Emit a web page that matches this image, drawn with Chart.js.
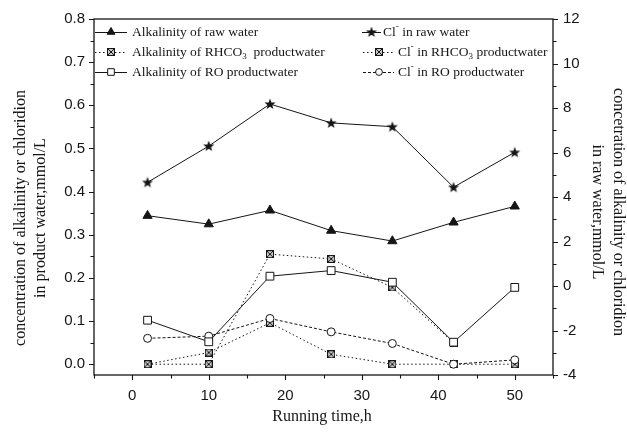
<!DOCTYPE html>
<html><head><meta charset="utf-8">
<script src="https://cdn.jsdelivr.net/npm/chart.js@4.4.0/dist/chart.umd.min.js"></script>
<style>html,body{margin:0;padding:0;background:#fff;}#wrap{position:relative;width:627px;height:433px;}</style>
</head><body><div id="wrap"><canvas id="c" width="627" height="433"></canvas></div>
<script>
// ---- data ----
const runningTime = [2, 10, 18, 26, 34, 42, 50];
const alkRawWater = [3.16, 2.78, 3.40, 2.49, 2.02, 2.86, 3.58];   // right axis
const clRawWater  = [4.66, 6.29, 8.18, 7.33, 7.16, 4.44, 6.01];   // right axis
const alkRHCO3    = [0, 0, 0.255, 0.244, 0.178, 0.050, null];     // left axis
const clRHCO3     = [0, 0.027, 0.096, 0.023, 0, 0, 0];           // left axis
const alkRO       = [0.102, 0.052, 0.204, 0.217, 0.190, 0.051, 0.178];
const clRO        = [0.060, 0.065, 0.106, 0.075, 0.048, 0, 0.010];
const xTickValues = [0, 10, 20, 30, 40, 50];
const leftTickValues = [0, 0.1, 0.2, 0.3, 0.4, 0.5, 0.6, 0.7, 0.8];
const rightTickValues = [-4, -2, 0, 2, 4, 6, 8, 10, 12];
const xTitle = 'Running time,h';
const leftTitle = ['concentration of alkalinity or chloridion', 'in product water,mmol/L'];
const rightTitle = ['concetration of alkalinity or chloridion', 'in raw water,mmol/L'];

const INK = '#151515';
const SERIF = '"Liberation Serif", "Times New Roman", serif';
const SANS = '"Liberation Sans", Arial, sans-serif';

function makeStar() {
  const c = document.createElement('canvas'); c.width = 12; c.height = 12;
  const g = c.getContext('2d'); g.fillStyle = INK; g.beginPath();
  for (let i = 0; i < 10; i++) {
    const r = i % 2 === 0 ? 5.8 : 2.4;
    const a = -Math.PI / 2 + i * Math.PI / 5;
    const px = 6 + r * Math.cos(a), py = 6.4 + r * Math.sin(a);
    i === 0 ? g.moveTo(px, py) : g.lineTo(px, py);
  }
  g.closePath(); g.fill(); return c;
}
function makeCrossSquare() {
  const c = document.createElement('canvas'); c.width = 8; c.height = 8;
  const g = c.getContext('2d');
  g.fillStyle = '#c8c8c8'; g.fillRect(0, 0, 8, 8);
  g.strokeStyle = INK; g.lineWidth = 1;
  g.strokeRect(0.5, 0.5, 7, 7);
  g.beginPath(); g.moveTo(1, 1); g.lineTo(7, 7); g.moveTo(7, 1); g.lineTo(1, 7); g.stroke();
  return c;
}
const starImg = makeStar();
const crossImg = makeCrossSquare();

const pts = arr => runningTime.map((t, i) => ({ x: t, y: arr[i] }));

const datasets = [
  { key: 'alkRaw', data: pts(alkRawWater), yAxisID: 'y2', borderColor: INK, borderWidth: 1,
    pointStyle: 'triangle', pointRadius: 5.3, pointBackgroundColor: INK, pointBorderColor: INK, pointBorderWidth: 1, order: 0 },
  { key: 'clRaw', data: pts(clRawWater), yAxisID: 'y2', borderColor: INK, borderWidth: 1,
    pointStyle: starImg, pointRadius: 6, order: 0 },
  { key: 'alkRHCO3', data: pts(alkRHCO3), yAxisID: 'y', borderColor: INK, borderWidth: 1, borderDash: [1.5, 2.5],
    pointStyle: crossImg, pointRadius: 4, order: 3 },
  { key: 'clRHCO3', data: pts(clRHCO3), yAxisID: 'y', borderColor: INK, borderWidth: 1, borderDash: [1.5, 2.5],
    pointStyle: crossImg, pointRadius: 4, order: 3 },
  { key: 'alkRO', data: pts(alkRO), yAxisID: 'y', borderColor: INK, borderWidth: 1,
    pointStyle: 'rect', pointRadius: 5.5, pointBackgroundColor: '#fff', pointBorderColor: INK, pointBorderWidth: 1, order: 1 },
  { key: 'clRO', data: pts(clRO), yAxisID: 'y', borderColor: INK, borderWidth: 1, borderDash: [3, 2],
    pointStyle: 'circle', pointRadius: 4, pointBackgroundColor: '#fff', pointBorderColor: INK, pointBorderWidth: 1, order: 2 }
];
datasets.forEach(d => { d.fill = false; d.tension = 0; d.spanGaps = false; d.label = d.key; });

// legend: [datasetIndex, sample start, sample end, marker x, text x, row y, rich text]
const legendRows = [
  [0, 95, 127, 111, 132, 32, [{ t: 'Alkalinity of raw water' }]],
  [2, 95, 127, 111, 132, 52, [{ t: 'Alkalinity of RHCO' }, { t: '3', sub: true }, { t: '  productwater' }]],
  [4, 95, 127, 111, 132, 72, [{ t: 'Alkalinity of RO productwater' }]],
  [1, 362, 381, 371.5, 383, 32, [{ t: 'Cl' }, { t: '-', sup: true }, { t: ' in raw water' }]],
  [3, 363, 394, 379, 398, 52, [{ t: 'Cl' }, { t: '-', sup: true }, { t: ' in RHCO' }, { t: '3', sub: true }, { t: ' productwater' }]],
  [5, 363, 394, 379, 398, 72, [{ t: 'Cl' }, { t: '-', sup: true }, { t: ' in RO productwater' }]]
];

const decor = {
  id: 'decor',
  afterDatasetsDraw(chart) {
    const { ctx, chartArea: { left, right, top, bottom }, scales: { x, y, y2 } } = chart;
    ctx.save();
    ctx.strokeStyle = INK;
    ctx.lineWidth = 1.3;
    ctx.strokeRect(left, top, right - left, bottom - top);
    ctx.lineWidth = 1.1;
    ctx.beginPath();
    for (let v = -5; v <= 55; v += 5) {
      const px = Math.round(x.getPixelForValue(v)) + 0.5;
      const len = v % 10 === 0 ? 5 : 3.5;
      ctx.moveTo(px, bottom); ctx.lineTo(px, bottom + len);
    }
    for (let i = 0; i <= 16; i++) {
      const py = Math.round(y.getPixelForValue(i * 0.05)) + 0.5;
      const len = i % 2 === 0 ? 5 : 3.5;
      ctx.moveTo(left, py); ctx.lineTo(left - len, py);
    }
    for (let v = -4; v <= 12; v++) {
      const py = Math.round(y2.getPixelForValue(v)) + 0.5;
      const len = v % 2 === 0 ? 5 : 3.5;
      ctx.moveTo(right, py); ctx.lineTo(right + len, py);
    }
    ctx.stroke();

    // legend
    ctx.fillStyle = INK;
    legendRows.forEach(([di, x0, x1, mx, tx, ry, rich]) => {
      const ds = chart.data.datasets[di];
      ctx.save();
      ctx.strokeStyle = INK; ctx.lineWidth = 1;
      ctx.setLineDash(ds.borderDash || []);
      ctx.beginPath(); ctx.moveTo(x0, ry + 0.5); ctx.lineTo(x1, ry + 0.5); ctx.stroke();
      ctx.setLineDash([]);
      ctx.fillStyle = ds.pointBackgroundColor || INK;
      ctx.strokeStyle = INK;
      Chart.helpers.drawPoint(ctx, { pointStyle: ds.pointStyle, rotation: 0, radius: ds.pointRadius * 0.85, borderWidth: 1 }, mx, ry);
      ctx.restore();
      let cx = tx;
      ctx.textBaseline = 'middle'; ctx.textAlign = 'left'; ctx.fillStyle = INK;
      rich.forEach(seg => {
        if (seg.sub || seg.sup) {
          ctx.font = '9px ' + SERIF;
          ctx.fillText(seg.t, cx, ry + (seg.sub ? 5 : -5));
        } else {
          ctx.font = '13.5px ' + SERIF;
          ctx.fillText(seg.t, cx, ry);
        }
        cx += ctx.measureText(seg.t).width;
      });
    });

    // axis titles
    ctx.font = '16px ' + SERIF;
    ctx.textAlign = 'center'; ctx.textBaseline = 'middle';
    ctx.fillText(xTitle, 322, 417);
    ctx.save(); ctx.translate(0, 218); ctx.rotate(-Math.PI / 2);
    ctx.fillText(leftTitle[0], 0, 20.5); ctx.fillText(leftTitle[1], 0, 41);
    ctx.restore();
    ctx.save(); ctx.translate(0, 212); ctx.rotate(Math.PI / 2);
    ctx.fillText(rightTitle[0], 0, -618); ctx.fillText(rightTitle[1], 0, -597);
    ctx.restore();
    ctx.restore();
  }
};

const tickFont = { family: SANS, size: 15 };
new Chart(document.getElementById('c'), {
  type: 'line',
  data: { datasets },
  options: {
    responsive: false, animation: false, devicePixelRatio: 1, events: [],
    layout: { padding: { top: 19, left: 0, right: 0, bottom: 0 } },
    plugins: { legend: { display: false }, tooltip: { enabled: false } },
    scales: {
      x: { type: 'linear', position: 'bottom', min: -5, max: 55,
        afterBuildTicks: s => { s.ticks = xTickValues.map(v => ({ value: v })); },
        afterFit: s => { s.height = 58; },
        grid: { display: false, drawTicks: false }, border: { display: false },
        ticks: { font: tickFont, color: INK, padding: 12, maxRotation: 0 } },
      y: { type: 'linear', position: 'left', min: -0.025, max: 0.8,
        afterBuildTicks: s => { s.ticks = leftTickValues.map(v => ({ value: v })); },
        afterFit: s => { s.width = 94; },
        grid: { display: false, drawTicks: false }, border: { display: false },
        ticks: { font: tickFont, color: INK, padding: 9, callback: v => v.toFixed(1) } },
      y2: { type: 'linear', position: 'right', min: -4, max: 12,
        afterBuildTicks: s => { s.ticks = rightTickValues.map(v => ({ value: v })); },
        afterFit: s => { s.width = 74; },
        grid: { display: false, drawTicks: false }, border: { display: false },
        ticks: { font: tickFont, color: INK, padding: 10, callback: v => String(v) } }
    }
  },
  plugins: [decor]
});
</script></body></html>
